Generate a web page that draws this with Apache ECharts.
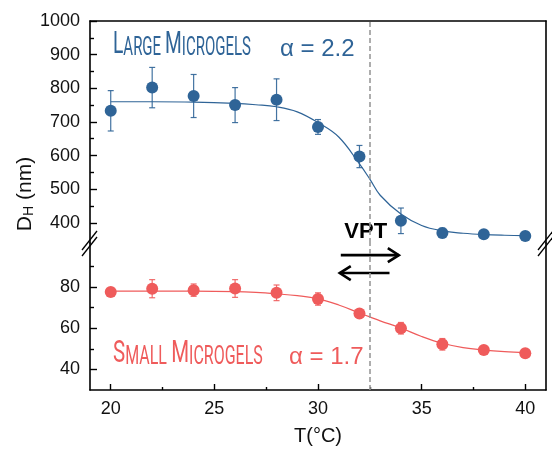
<!DOCTYPE html>
<html lang="en">
<head>
<meta charset="UTF-8">
<title>DH vs T</title>
<script src="https://cdn.jsdelivr.net/npm/echarts@6/dist/echarts.min.js"></script>
<style>html,body{margin:0;padding:0;background:#fff}#main{width:552px;height:451px}</style>
</head>
<body>
<div id="main"></div>
<script>
// measured points
const temps = [20, 22, 24, 26, 28, 30, 32, 34, 36, 38, 40];
const largeD = [733, 802, 777, 750, 766, 685, 597, 406, 370, 366, 361];
const largeErr = [60, 60, 64, 52, 62, 22, 33, 38, 14, 10, 12];
const smallD = [77.6, 79.2, 78.5, 79.3, 77.2, 74.2, 67.2, 60.0, 52.2, 49.4, 47.8];
const smallErr = [0.5, 4.4, 3.0, 4.3, 3.8, 3.0, 1.5, 2.8, 2.8, 0.8, 0.8];

// fitted curves
const fitT = [20, 22, 24, 26, 27, 28, 29, 30, 31, 32, 32.5, 33, 34, 35, 36, 37, 38, 39, 40];
const largeFit = [760, 760, 759, 755, 751, 745, 730, 698, 655, 575, 530, 482, 426, 392, 376, 369, 365, 363, 362];
const smallFit = [78, 78, 78, 77.8, 77.4, 76.7, 75.8, 74.3, 71.3, 67.4, 65.5, 63.6, 60.1, 56.0, 52.7, 50.6, 49.4, 48.6, 48.1];

// ticks
const xMajor = [20, 25, 30, 35, 40];
const xMinor = [22.5, 27.5, 32.5, 37.5];
const topMajor = [400, 500, 600, 700, 800, 900, 1000];
const topMinor = [450, 550, 650, 750, 850, 950];
const botMajor = [40, 60, 80];
const botMinor = [50, 70, 90];

// annotations (data coords)
const vptT = 32.5;
const vptLabel = [32.3, 372];
const arrowRight = [[31.1, 95.5], [33.9, 95.5]];
const arrowLeft = [[33.45, 86.8], [31.05, 86.8]];

const BLUE = '#2f6497';
const RED = '#ef5b5b';
const FONT = 'Liberation Sans, Arial, sans-serif';

let chart = echarts.init(document.getElementById('main'));

function errBars(color) {
    return function (params, api) {
        let x = api.value(0), y = api.value(1), e = api.value(2);
        let hi = api.coord([x, y + e]), lo = api.coord([x, y - e]);
        let w = 3;
        let st = {stroke: color, lineWidth: 1.2, opacity: 0.9};
        return {
            type: 'group', children: [
                {type: 'line', shape: {x1: hi[0], y1: hi[1], x2: lo[0], y2: lo[1]}, style: st},
                {type: 'line', shape: {x1: hi[0] - w, y1: hi[1], x2: hi[0] + w, y2: hi[1]}, style: st},
                {type: 'line', shape: {x1: lo[0] - w, y1: lo[1], x2: lo[0] + w, y2: lo[1]}, style: st}
            ]
        };
    };
}

const lineAxis = {show: true, lineStyle: {color: '#000', width: 1.6}};
const noAxis = {show: false};
const labelStyle = {color: '#111', fontSize: 18, fontFamily: FONT, formatter: v => String(v)};

function yPair(grid, min, max, major, minor) {
    return [
        {
            gridIndex: grid, type: 'value', position: 'left', min: min, max: max,
            axisLine: lineAxis, splitLine: noAxis,
            axisTick: {inside: true, length: 7, customValues: major, lineStyle: {color: '#000', width: 1.4}},
            axisLabel: Object.assign({margin: 10, customValues: major}, labelStyle)
        },
        {
            gridIndex: grid, type: 'value', position: 'left', min: min, max: max,
            axisLine: noAxis, splitLine: noAxis, axisLabel: noAxis,
            axisTick: {inside: true, length: 4, customValues: minor, lineStyle: {color: '#000', width: 1.4}}
        },
        {
            gridIndex: grid, type: 'value', position: 'right', min: min, max: max,
            axisLine: lineAxis, splitLine: noAxis, axisLabel: noAxis, axisTick: noAxis
        }
    ];
}

const vline = {
    silent: true, symbol: 'none', label: {show: false},
    lineStyle: {color: '#999', type: [5, 3], width: 1.6},
    data: [{xAxis: vptT}]
};

let option = {
    animation: false,
    grid: [
        {left: 90, right: 6, top: 21, height: 222},
        {left: 90, right: 6, top: 243, height: 147}
    ],
    xAxis: [
        {
            gridIndex: 0, type: 'value', position: 'top', min: 19, max: 41,
            axisLine: lineAxis, axisTick: noAxis, axisLabel: noAxis, splitLine: noAxis
        },
        {
            gridIndex: 1, type: 'value', position: 'bottom', min: 19, max: 41,
            axisLine: lineAxis, splitLine: noAxis,
            axisTick: {inside: true, length: 6, customValues: xMajor, lineStyle: {color: '#000', width: 1.4}},
            axisLabel: Object.assign({margin: 10, customValues: xMajor}, labelStyle),
            name: 'T(°C)', nameLocation: 'middle', nameGap: 36,
            nameTextStyle: {color: '#111', fontSize: 20, fontFamily: FONT}
        },
        {
            gridIndex: 1, type: 'value', position: 'bottom', min: 19, max: 41,
            axisLine: noAxis, axisLabel: noAxis, splitLine: noAxis,
            axisTick: {inside: true, length: 3, customValues: xMinor, lineStyle: {color: '#000', width: 1.4}}
        }
    ],
    yAxis: yPair(0, 340, 1000, topMajor, topMinor).concat(yPair(1, 30, 101.4, botMajor, botMinor)),
    series: [
        {
            type: 'line', xAxisIndex: 0, yAxisIndex: 0, smooth: 0.4, showSymbol: false,
            lineStyle: {color: BLUE, width: 1.2}, z: 2,
            data: fitT.map((t, i) => [t, largeFit[i]]), markLine: vline
        },
        {
            type: 'custom', xAxisIndex: 0, yAxisIndex: 0, renderItem: errBars(BLUE), z: 3,
            data: temps.map((t, i) => [t, largeD[i], largeErr[i]])
        },
        {
            type: 'scatter', xAxisIndex: 0, yAxisIndex: 0, symbolSize: 12, z: 4,
            itemStyle: {color: BLUE, opacity: 1},
            data: temps.map((t, i) => [t, largeD[i]])
        },
        {
            type: 'line', xAxisIndex: 1, yAxisIndex: 3, smooth: 0.4, showSymbol: false,
            lineStyle: {color: RED, width: 1.2}, z: 2,
            data: fitT.map((t, i) => [t, smallFit[i]]), markLine: vline
        },
        {
            type: 'custom', xAxisIndex: 1, yAxisIndex: 3, renderItem: errBars(RED), z: 3,
            data: temps.map((t, i) => [t, smallD[i], smallErr[i]])
        },
        {
            type: 'scatter', xAxisIndex: 1, yAxisIndex: 3, symbolSize: 12, z: 4,
            itemStyle: {color: RED, opacity: 1},
            data: temps.map((t, i) => [t, smallD[i]])
        }
    ]
};
chart.setOption(option);

// annotations placed from data coords
function px(seriesIndex, p) {
    return chart.convertToPixel({seriesIndex: seriesIndex}, p);
}

function arrow(a, b) {
    let p = px(3, a), q = px(3, b);
    let dir = Math.sign(q[0] - p[0]);
    return [
        {type: 'line', shape: {x1: p[0], y1: p[1], x2: q[0], y2: q[1]}, style: {stroke: '#000', lineWidth: 2.6}},
        {
            type: 'polyline',
            shape: {points: [[q[0] - dir * 11, q[1] - 7], [q[0], q[1]], [q[0] - dir * 11, q[1] + 7]]},
            style: {stroke: '#000', lineWidth: 2.6, fill: null}
        }
    ];
}

function breakMark(cx, cy) {
    return [
        {type: 'polygon', shape: {points: [[cx - 7, cy + 7], [cx + 7, cy - 11], [cx + 7, cy - 5], [cx - 7, cy + 13]]}, style: {fill: '#fff'}},
        {type: 'line', shape: {x1: cx - 8, y1: cy + 8, x2: cx + 7, y2: cy - 11}, style: {stroke: '#000', lineWidth: 1.3}},
        {type: 'line', shape: {x1: cx - 8, y1: cy + 14, x2: cx + 7, y2: cy - 5}, style: {stroke: '#000', lineWidth: 1.3}}
    ];
}

let vp = px(0, vptLabel);
let titleRich = function (color) {
    return {
        b: {fontSize: 32, fontFamily: 'Roboto, sans-serif', fill: color, verticalAlign: 'bottom'},
        s: {fontSize: 25, fontFamily: 'Roboto, sans-serif', fill: color, verticalAlign: 'bottom'}
    };
};

let graphics = [].concat(
    arrow(arrowRight[0], arrowRight[1]),
    arrow(arrowLeft[0], arrowLeft[1]),
    breakMark(90, 242),
    breakMark(546, 242),
    [
        {
            type: 'text', x: vp[0], y: vp[1],
            style: {text: 'VPT', font: 'bold 22px ' + FONT, fill: '#000', align: 'center', verticalAlign: 'middle'}
        },
        {
            type: 'text', x: 113, y: 61, scaleX: 0.6,
            style: {text: '{b|L}{s|ARGE}  {b|M}{s|ICROGELS}', rich: titleRich(BLUE), align: 'left', verticalAlign: 'bottom'}
        },
        {
            type: 'text', x: 280, y: 49,
            style: {text: 'α = 2.2', font: '24px ' + FONT, fill: BLUE, align: 'left', verticalAlign: 'middle'}
        },
        {
            type: 'text', x: 113, y: 370, scaleX: 0.64,
            style: {text: '{b|S}{s|MALL}  {b|M}{s|ICROGELS}', rich: titleRich(RED), align: 'left', verticalAlign: 'bottom'}
        },
        {
            type: 'text', x: 289, y: 357,
            style: {text: 'α = 1.7', font: '24px ' + FONT, fill: RED, align: 'left', verticalAlign: 'middle'}
        },
        {
            type: 'text', x: 23, y: 194, rotation: Math.PI / 2,
            style: {
                text: '{d|D}{h|H}{d| (nm)}', align: 'center', verticalAlign: 'middle',
                rich: {
                    d: {fontSize: 21, fontFamily: FONT, fill: '#111', lineHeight: 26, verticalAlign: 'bottom'},
                    h: {fontSize: 14, fontFamily: FONT, fill: '#111', lineHeight: 20, verticalAlign: 'bottom'}
                }
            }
        }
    ]
);
chart.setOption({graphic: graphics});
</script>
</body>
</html>
